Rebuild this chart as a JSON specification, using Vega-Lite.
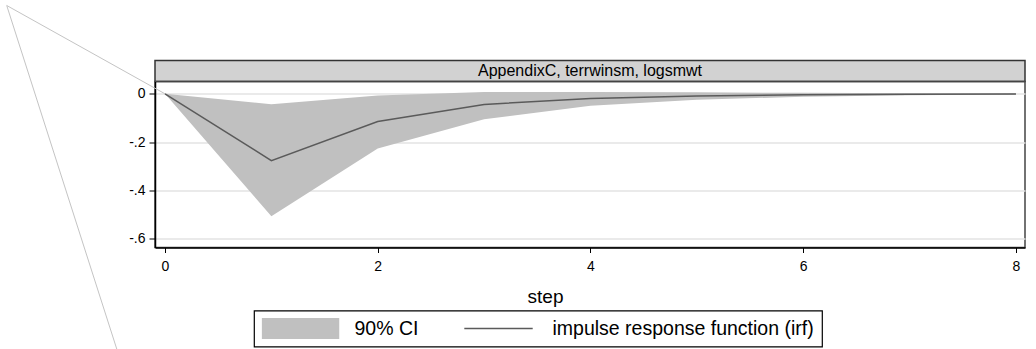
{
  "$schema": "https://vega.github.io/schema/vega-lite/v6.json",
  "autosize": {"type": "pad"},
  "padding": {"left": 3, "top": 2.5, "right": 0, "bottom": 0},
  "background": "white",
  "bounds": "flush",
  "spacing": 0,
  "config": {
    "font": "Liberation Sans",
    "axis": {"labelFont": "Liberation Sans", "titleFont": "Liberation Sans", "labelColor": "#000", "titleColor": "#000", "titleFontWeight": "normal"},
    "legend": {"labelFont": "Liberation Sans", "labelColor": "#000"}
  },
  "vconcat": [
    {
      "width": 870,
      "height": 21,
      "view": {"fill": "#d2d2d2", "stroke": "#333333", "strokeWidth": 1.5},
      "data": {"values": [{"panel": "AppendixC, terrwinsm, logsmwt"}]},
      "mark": {"type": "text", "fontSize": 16, "baseline": "middle", "align": "center", "color": "#000"},
      "encoding": {"text": {"field": "panel"}}
    },
    {
      "width": 870,
      "height": 166,
      "view": {"stroke": "#444444", "strokeWidth": 1.5},
      "layer": [
        {
          "data": {"values": [
            {"cx": 0, "cy": 0, "vertex": 0},
            {"cx": -1.488, "cy": 0.366, "vertex": 1},
            {"cx": -0.451, "cy": -1.061, "vertex": 2}
          ]},
          "mark": {"type": "line", "clip": false, "color": "#c4c4c4", "strokeWidth": 1},
          "encoding": {
            "x": {"field": "cx", "type": "quantitative"},
            "y": {"field": "cy", "type": "quantitative"},
            "order": {"field": "vertex"}
          }
        },
        {
          "data": {"name": "irf"},
          "mark": {"type": "area", "opacity": 1},
          "encoding": {
            "x": {"field": "step", "type": "quantitative"},
            "y": {"field": "lo", "type": "quantitative"},
            "y2": {"field": "hi"},
            "color": {"datum": "90% CI"}
          }
        },
        {
          "data": {"name": "irf"},
          "mark": {"type": "line", "strokeWidth": 1.5},
          "encoding": {
            "x": {"field": "step", "type": "quantitative"},
            "y": {"field": "irf", "type": "quantitative"},
            "color": {"datum": "impulse response function (irf)"}
          }
        }
      ],
      "encoding": {
        "x": {
          "type": "quantitative",
          "scale": {"domain": [-0.094, 8.085], "nice": false, "zero": false},
          "axis": {
            "title": "step",
            "values": [0, 2, 4, 6, 8],
            "format": "d",
            "grid": false,
            "domainColor": "#000",
            "domainWidth": 1.5,
            "tickColor": "#000",
            "tickSize": 5,
            "tickWidth": 1,
            "labelFontSize": 14,
            "labelPadding": 7,
            "titleFontSize": 19,
            "titleX": 390,
            "titleY": 54.7,
            "titleAlign": "center",
            "titleBaseline": "alphabetic"
          }
        },
        "y": {
          "type": "quantitative",
          "scale": {"domain": [-0.637, 0.051], "nice": false, "zero": false},
          "axis": {
            "title": null,
            "values": [0, -0.2, -0.4, -0.6],
            "labelExpr": "datum.value == 0 ? '0' : (datum.value < 0 ? '-' : '') + replace(format(abs(datum.value), '.1f'), '0.', '.')",
            "grid": true,
            "gridColor": "#e3e3e3",
            "gridWidth": 1.5,
            "domainColor": "#000",
            "domainWidth": 1.5,
            "tickColor": "#000",
            "tickSize": 6,
            "tickWidth": 1,
            "labelFontSize": 14,
            "labelPadding": 4
          }
        },
        "color": {
          "type": "nominal",
          "scale": {"domain": ["90% CI", "impulse response function (irf)"], "range": ["#c0c0c0", "#5a5a5a"]},
          "legend": {
            "title": null,
            "orient": "none",
            "legendX": 99,
            "legendY": 250,
            "direction": "horizontal",
            "columns": 2,
            "strokeColor": "#000",
            "fillColor": "white",
            "padding": 7.5,
            "labelFontSize": 19.5,
            "labelLimit": 400,
            "labelOffset": 15,
            "columnPadding": 41,
            "symbolSize": 5776,
            "clipHeight": 21,
            "encode": {
              "legend": {
                "update": {"strokeWidth": {"value": 1.2}}
              },
              "symbols": {
                "update": {
                  "shape": {"signal": "datum.value === '90% CI' ? 'M-1,-0.271H1V0.271H-1Z' : 'M-0.9,0H0.9'"},
                  "fill": {"signal": "datum.value === '90% CI' ? '#c0c0c0' : 'transparent'"},
                  "stroke": {"signal": "datum.value === '90% CI' ? 'transparent' : '#5a5a5a'"},
                  "strokeWidth": {"value": 1.5},
                  "opacity": {"value": 1}
                }
              }
            }
          }
        }
      }
    }
  ],
  "datasets": {
    "irf": [
      {"step": 0, "irf": 0, "lo": 0, "hi": 0},
      {"step": 1, "irf": -0.277, "lo": -0.507, "hi": -0.043},
      {"step": 2, "irf": -0.115, "lo": -0.227, "hi": -0.007},
      {"step": 3, "irf": -0.044, "lo": -0.105, "hi": 0.007},
      {"step": 4, "irf": -0.019, "lo": -0.05, "hi": 0.008},
      {"step": 5, "irf": -0.009, "lo": -0.025, "hi": 0.006},
      {"step": 6, "irf": -0.004, "lo": -0.012, "hi": 0.004},
      {"step": 7, "irf": -0.002, "lo": -0.006, "hi": 0.002},
      {"step": 8, "irf": -0.001, "lo": -0.003, "hi": 0.001}
    ]
  }
}
